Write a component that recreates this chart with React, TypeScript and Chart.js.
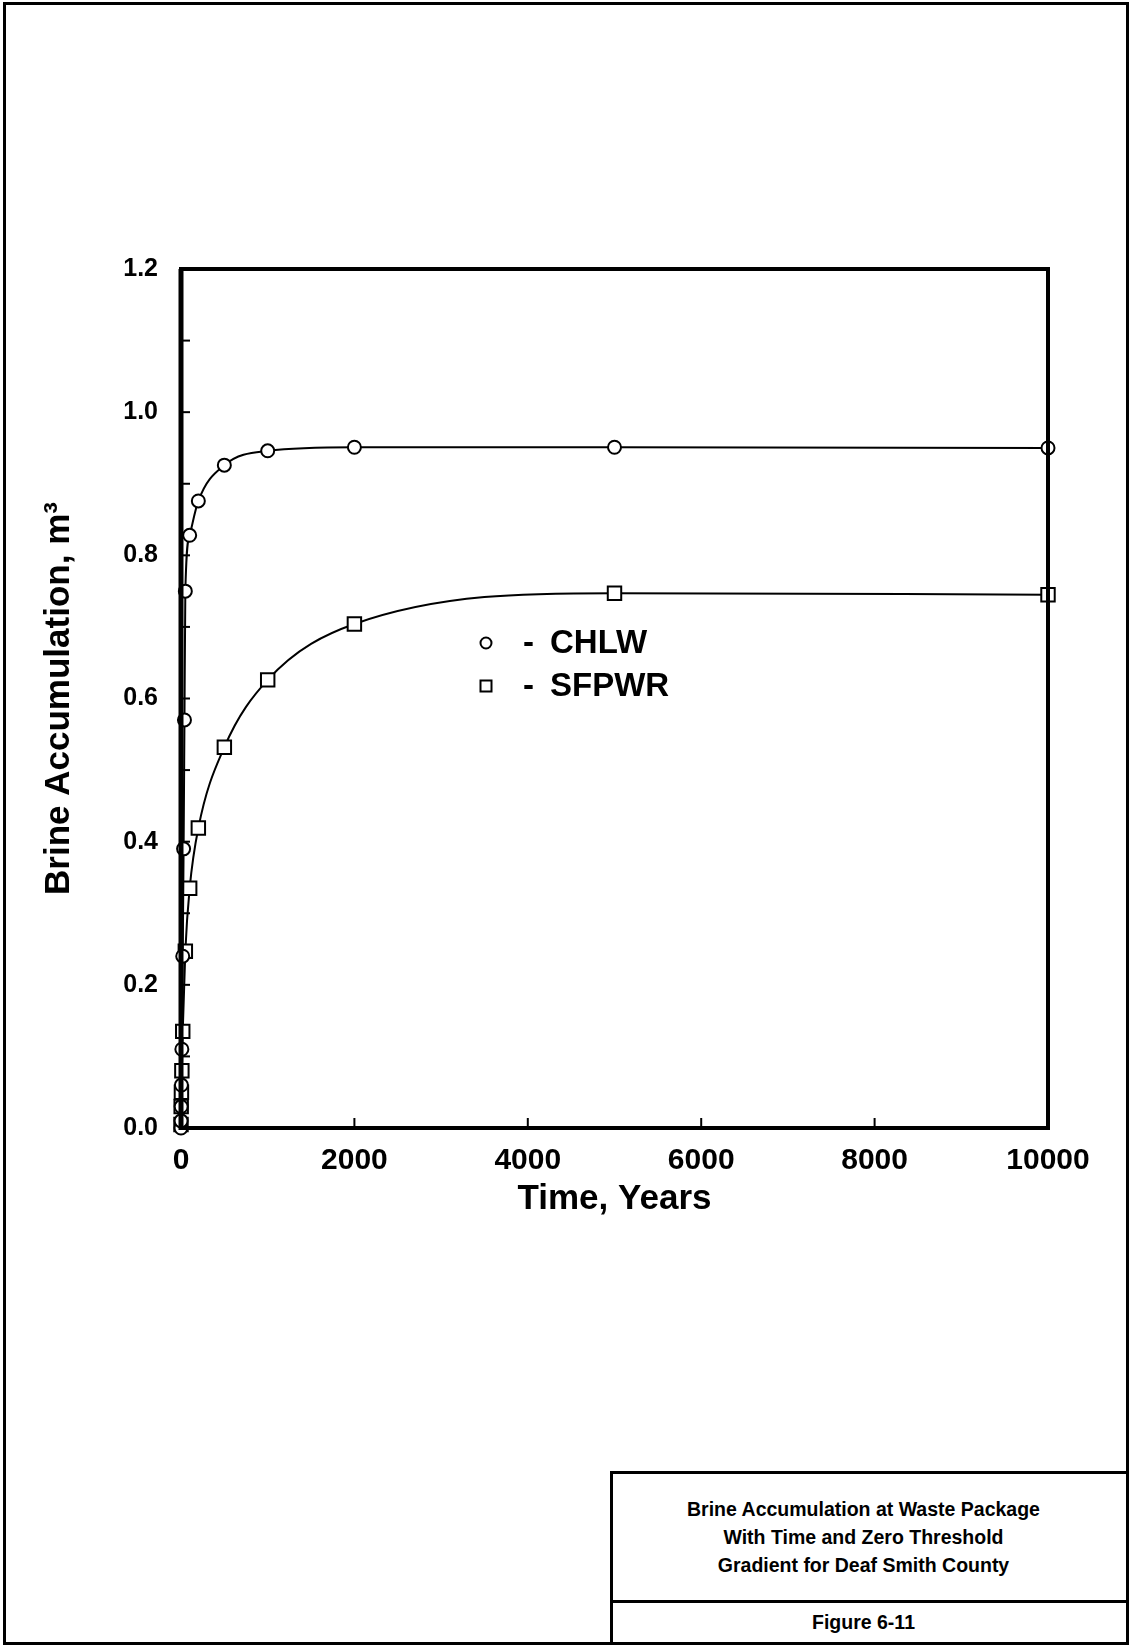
import React, { useEffect, useRef } from "react";
import { Chart, registerables } from "chart.js";

Chart.register(...registerables);

// ---- Data ----
const CHLW_TIME = [0, 1, 2, 5, 10, 20, 30, 40, 50, 100, 200, 500, 1000, 2000, 5000, 10000];
const CHLW_VALUES = [0, 0.01, 0.03, 0.06, 0.11, 0.24, 0.39, 0.57, 0.75, 0.828, 0.876, 0.926, 0.946, 0.951, 0.951, 0.95];

const SFPWR_TIME = [0, 2, 5, 10, 20, 50, 100, 200, 500, 1000, 2000, 5000, 10000];
const SFPWR_VALUES = [0.005, 0.03, 0.05, 0.08, 0.135, 0.247, 0.335, 0.419, 0.532, 0.626, 0.704, 0.747, 0.745];

const X_TICKS = [0, 2000, 4000, 6000, 8000, 10000];
const Y_TICKS = [0, 0.2, 0.4, 0.6, 0.8, 1.0, 1.2];
const Y_MINOR = [0.1, 0.2, 0.3, 0.4, 0.5, 0.6, 0.7, 0.8, 0.9, 1.0, 1.1];
const X_MINOR = [2000, 4000, 6000, 8000];

const SERIES_NAMES = ["CHLW", "SFPWR"];
const X_TITLE = "Time, Years";
const Y_TITLE = "Brine Accumulation, m\u00B3";
const CAPTION_LINES = [
  "Brine Accumulation at Waste Package",
  "With Time and Zero Threshold",
  "Gradient for Deaf Smith County",
];
const FIGURE_LABEL = "Figure 6-11";

const FONT = "'Liberation Sans', Arial, Helvetica, sans-serif";

const framePlugin = {
  id: "frameAndTicks",
  afterDatasetsDraw(chart: any) {
    const { ctx, chartArea, scales } = chart;
    const { left, right, top, bottom } = chartArea;
    ctx.save();
    ctx.strokeStyle = "#000";
    ctx.lineCap = "butt";
    // inward ticks
    ctx.lineWidth = 2;
    Y_MINOR.forEach((v) => {
      const y = scales.y.getPixelForValue(v);
      ctx.beginPath();
      ctx.moveTo(left, y);
      ctx.lineTo(left + 9, y);
      ctx.stroke();
    });
    X_MINOR.forEach((v) => {
      const x = scales.x.getPixelForValue(v);
      ctx.beginPath();
      ctx.moveTo(x, bottom);
      ctx.lineTo(x, bottom - 10);
      ctx.stroke();
    });
    // box
    ctx.lineWidth = 4;
    ctx.strokeRect(left, top, right - left, bottom - top);
    ctx.lineWidth = 5;
    ctx.beginPath();
    ctx.moveTo(left, top);
    ctx.lineTo(left, bottom + 2);
    ctx.stroke();

    // legend (in-plot text)
    const lx = left + 305;
    const ly1 = top + 374;
    const ly2 = top + 417;
    ctx.lineWidth = 2;
    ctx.fillStyle = "#fff";
    ctx.beginPath();
    ctx.arc(lx, ly1, 5.5, 0, Math.PI * 2);
    ctx.fill();
    ctx.stroke();
    ctx.fillRect(lx - 5.5, ly2 - 5.5, 11, 11);
    ctx.strokeRect(lx - 5.5, ly2 - 5.5, 11, 11);
    ctx.fillStyle = "#000";
    ctx.font = `bold 33px ${FONT}`;
    ctx.textBaseline = "middle";
    ctx.textAlign = "left";
    ctx.fillText("-", lx + 37, ly1 + 1);
    ctx.fillText("-", lx + 37, ly2 + 1);
    ctx.fillText(SERIES_NAMES[0], lx + 64, ly1 + 1);
    ctx.fillText(SERIES_NAMES[1], lx + 64, ly2 + 1);
    ctx.restore();
  },
};

function BrineChart() {
  const ref = useRef<HTMLCanvasElement>(null);
  useEffect(() => {
    if (!ref.current) return;
    const chlw = CHLW_TIME.map((t, i) => ({ x: t, y: CHLW_VALUES[i] }));
    const sfpwr = SFPWR_TIME.map((t, i) => ({ x: t, y: SFPWR_VALUES[i] }));
    const chart = new Chart(ref.current, {
      type: "line",
      data: {
        datasets: [
          {
            label: SERIES_NAMES[0],
            data: chlw,
            borderColor: "#000",
            borderWidth: 2,
            pointStyle: "circle",
            pointRadius: 6.5,
            pointBorderWidth: 2,
            pointBackgroundColor: "#fff",
            pointBorderColor: "#000",
            cubicInterpolationMode: "monotone",
            clip: false,
          },
          {
            label: SERIES_NAMES[1],
            data: sfpwr,
            borderColor: "#000",
            borderWidth: 2,
            pointStyle: "rect",
            pointRadius: 9.5,
            pointBorderWidth: 2,
            pointBackgroundColor: "#fff",
            pointBorderColor: "#000",
            cubicInterpolationMode: "monotone",
            clip: false,
          },
        ],
      },
      options: {
        animation: false,
        responsive: false,
        maintainAspectRatio: false,
        devicePixelRatio: 1,
        layout: { padding: { left: 0, right: 82, top: 269, bottom: 0 } },
        plugins: { legend: { display: false }, tooltip: { enabled: false } },
        scales: {
          x: {
            type: "linear",
            min: 0,
            max: 10000,
            afterFit: (s: any) => {
              s.height = 152;
            },
            afterBuildTicks: (s: any) => {
              s.ticks = X_TICKS.map((v) => ({ value: v }));
            },
            grid: { display: false, drawTicks: false },
            border: { display: false },
            ticks: {
              padding: 15,
              color: "#000",
              font: { family: FONT, size: 30, weight: "bold" },
              callback: (v: any) => String(v),
              maxRotation: 0,
            },
            title: {
              display: true,
              text: X_TITLE,
              color: "#000",
              font: { family: FONT, size: 35, weight: "bold" },
              padding: { top: 0, bottom: 60 },
            },
          },
          y: {
            type: "linear",
            min: 0,
            max: 1.2,
            afterFit: (s: any) => {
              s.width = 181;
            },
            afterBuildTicks: (s: any) => {
              s.ticks = Y_TICKS.map((v) => ({ value: v }));
            },
            grid: { display: false, drawTicks: false },
            border: { display: false },
            ticks: {
              padding: 23,
              color: "#000",
              font: { family: FONT, size: 25, weight: "bold" },
              callback: (v: any) => Number(v).toFixed(1),
            },
            title: {
              display: true,
              text: Y_TITLE,
              color: "#000",
              font: { family: FONT, size: 35, weight: "bold" },
              padding: { top: 38, bottom: 0 },
            },
          },
        },
      },
      plugins: [framePlugin],
    } as any);
    return () => chart.destroy();
  }, []);
  return (
    <canvas
      ref={ref}
      width={1130}
      height={1280}
      style={{ position: "absolute", left: 0, top: 0, width: 1130, height: 1280 }}
    />
  );
}

export default function App() {
  return (
    <div
      style={{
        position: "absolute",
        left: 0,
        top: 0,
        width: 1130,
        height: 1646,
        background: "#fff",
        overflow: "hidden",
        fontFamily: FONT,
      }}
    >
      <BrineChart />
      <div
        style={{
          position: "absolute",
          left: 3,
          top: 2,
          width: 1126,
          height: 1643,
          border: "3px solid #000",
          boxSizing: "border-box",
          pointerEvents: "none",
        }}
      />
      <div
        style={{
          position: "absolute",
          left: 610,
          top: 1471,
          width: 519,
          height: 174,
          border: "3px solid #000",
          boxSizing: "border-box",
          background: "#fff",
        }}
      >
        <div
          style={{
            height: 129,
            borderBottom: "3px solid #000",
            display: "flex",
            flexDirection: "column",
            justifyContent: "center",
            alignItems: "center",
            paddingRight: 12,
            boxSizing: "border-box",
          }}
        >
          {CAPTION_LINES.map((l) => (
            <div key={l} style={{ fontSize: 19.5, fontWeight: "bold", lineHeight: "28px", color: "#000" }}>
              {l}
            </div>
          ))}
        </div>
        <div
          style={{
            height: 38,
            display: "flex",
            alignItems: "center",
            justifyContent: "center",
            paddingRight: 12,
            fontSize: 19.5,
            fontWeight: "bold",
            color: "#000",
          }}
        >
          {FIGURE_LABEL}
        </div>
      </div>
    </div>
  );
}
